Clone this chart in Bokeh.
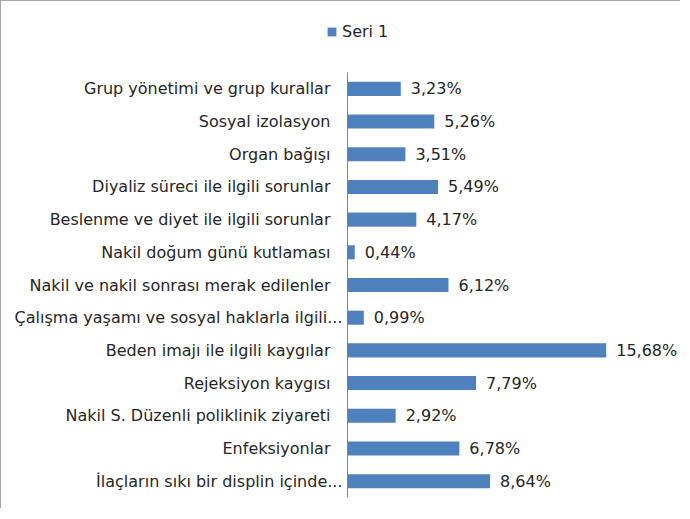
from bokeh.plotting import figure
from bokeh.models import ColumnDataSource, Legend, LegendItem, Range1d
from bokeh.embed import file_html
from bokeh.resources import INLINE
from bokeh.core.properties import value

categories = [
    "Grup yönetimi ve grup kurallar",
    "Sosyal izolasyon",
    "Organ bağışı",
    "Diyaliz süreci ile ilgili sorunlar",
    "Beslenme ve diyet ile ilgili sorunlar",
    "Nakil doğum günü kutlaması",
    "Nakil ve nakil sonrası merak edilenler",
    "Çalışma yaşamı ve sosyal haklarla ilgili...",
    "Beden imajı ile ilgili kaygılar",
    "Rejeksiyon kaygısı",
    "Nakil S. Düzenli poliklinik ziyareti",
    "Enfeksiyonlar",
    "İlaçların sıkı bir displin içinde...",
]
values = [3.23, 5.26, 3.51, 5.49, 4.17, 0.44, 6.12, 0.99, 15.68, 7.79, 2.92, 6.78, 8.64]
series_name = "Seri 1"

n = len(categories)
labels = [("%.2f" % v).replace(".", ",") + "%" for v in values]
ypos = [n - 1 - i for i in range(n)]
zeros = [0] * n
# truncated (ellipsised) labels sit closer to the axis, as in the original
cat_offsets = [-5 if c.endswith("...") else -17 for c in categories]

FONT = "DejaVu Sans"
FS = "16px"
TXT = "#262626"
BAR = "#4F81BD"
AXIS = "#868686"

W, H = 680, 508
axis_px = 346          # screen x of the value axis origin
band_top, band_bottom = 71, 496
px_per_unit = 16.5
unit_y = (band_bottom - band_top) / n

x_range = Range1d(-axis_px / px_per_unit, (W - axis_px) / px_per_unit)
y_range = Range1d(-0.5 - (H - band_bottom) / unit_y, n - 0.5 + band_top / unit_y)

src = ColumnDataSource(dict(y=ypos, val=values, lab=labels, cat=categories,
                            base=zeros, coff=cat_offsets))

p = figure(width=W, height=H, x_range=x_range, y_range=y_range,
           output_backend="svg", toolbar_location=None,
           min_border=0)
p.styles = {"border-top": "1px solid #a6a6a6", "border-left": "1px solid #a6a6a6"}
p.outline_line_color = None
p.grid.visible = False
p.axis.visible = False

# value axis line
p.segment(x0=0, y0=-0.5, x1=0, y1=n - 0.5, line_color=AXIS, line_width=1)

bars = p.hbar(y="y", right="val", left="base", height=0.43, source=src,
              fill_color=BAR, line_color=None)

# category labels
p.text(x="base", y="y", text="cat", source=src, x_offset="coff",
       text_baseline="middle", text_align="right",
       text_font=value(FONT), text_font_size=FS, text_color=TXT)

# data labels
p.text(x="val", y="y", text="lab", source=src, x_offset=10,
       text_baseline="middle", text_align="left",
       text_font=value(FONT), text_font_size=FS, text_color=TXT)

legend = Legend(items=[LegendItem(label=series_name, renderers=[bars])],
                location=(325, 468), orientation="horizontal",
                border_line_color=None, background_fill_alpha=0,
                glyph_width=11, glyph_height=11, label_standoff=5,
                padding=0, margin=0,
                label_text_font=FONT, label_text_font_size=FS,
                label_text_color=TXT)
p.add_layout(legend, "center")

open("out.html", "w").write(file_html(p, INLINE))
